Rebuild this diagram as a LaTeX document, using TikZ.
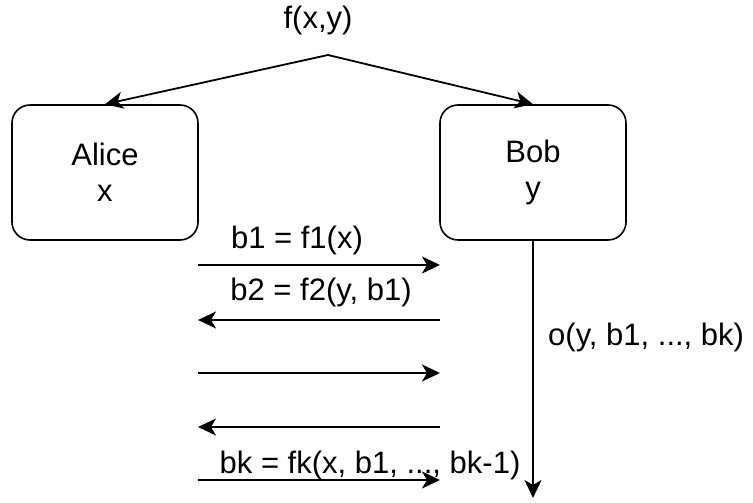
\documentclass[tikz,border=0pt]{standalone}
\usepackage{fontspec}
\setmainfont{Liberation Sans}
\usetikzlibrary{arrows.meta}
\begin{document}
\begin{tikzpicture}[x=1pt,y=1pt,
  party/.style={draw, line width=1.6pt, rounded corners=18pt, minimum width=186pt, minimum height=135pt, align=center, font=\fontsize{31}{36}\selectfont},
  lbl/.style={font=\fontsize{31}{36}\selectfont, inner sep=0pt},
  arr/.style={line width=1.8pt, -{Stealth[length=18pt,width=17pt,inset=5pt]}}]
\useasboundingbox (0,0) rectangle (753,503);
\node[party] (alice) at (105,330.5) {Alice\\x};
\node[party] (bob) at (533,330.5) {Bob\\y};
\node[lbl] (f) at (318,483) {f(x,y)};
\coordinate (apex) at (328,448);
\draw[arr] (apex) -- (alice.north);
\draw[arr] (apex) -- (bob.north);
% message arrows
\coordinate (a1) at (198,238); \coordinate (b1) at (440,238);
\coordinate (a2) at (198,183); \coordinate (b2) at (440,183);
\coordinate (a3) at (198,130); \coordinate (b3) at (440,130);
\coordinate (a4) at (198,76);  \coordinate (b4) at (440,76);
\coordinate (a5) at (198,23);  \coordinate (b5) at (440,23);
\draw[arr] (a1) -- (b1);
\draw[arr] (b2) -- (a2);
\draw[arr] (a3) -- (b3);
\draw[arr] (b4) -- (a4);
\draw[arr] (a5) -- (b5);
\node[lbl] (l1) at (297,263) {b1 = f1(x)};
\node[lbl] (l2) at (321,211) {b2 = f2(y, b1)};
\node[lbl] (l5) at (370,38) {bk = fk(x, b1, ..., bk-1)};
\coordinate (bobend) at (533,5);
\draw[arr] (bob.south) -- (bobend);
\node[lbl, anchor=west] (o) at (548,166) {o(y, b1, ..., bk)};
\end{tikzpicture}
\end{document}
